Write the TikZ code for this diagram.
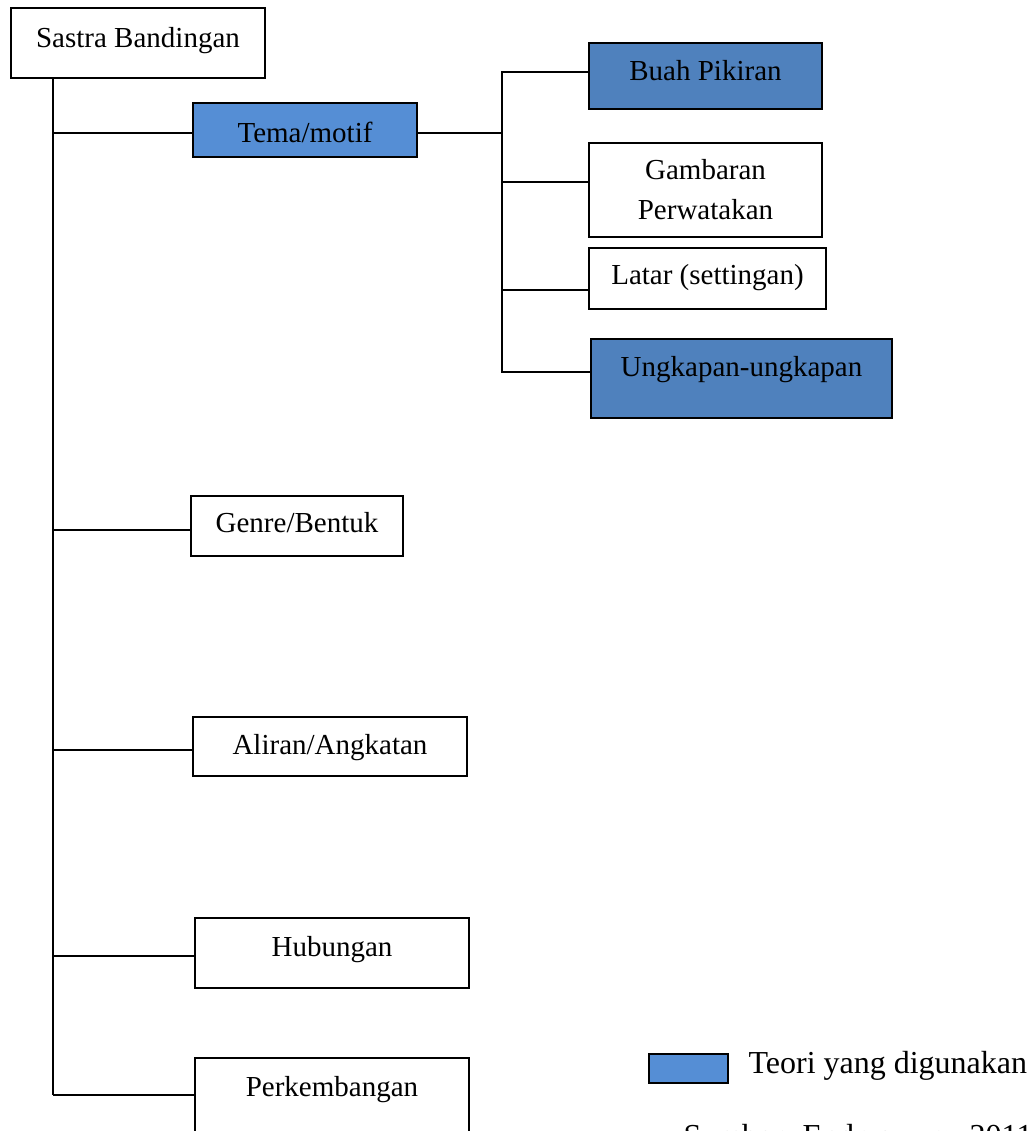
\documentclass[tikz,border=0pt]{standalone}
\usepackage{fontspec}
\setmainfont{Liberation Serif}
\usepackage{xcolor}
\usetikzlibrary{positioning,calc}
\definecolor{birumuda}{RGB}{85,142,213}
\definecolor{birutua}{RGB}{79,129,189}

\begin{document}
\begin{tikzpicture}[
    x=1pt, y=-1pt,
    every node/.style={font=\fontsize{29}{40}\selectfont},
    kotak/.style={rectangle, draw=black, line width=1.6pt, fill=white, align=center, inner sep=0pt},
    teori/.style={kotak, fill=birutua},
    teorimuda/.style={kotak, fill=birumuda},
    geser/.style 2 args={text height=#1, text depth=#2},
    garis/.style={line width=1.6pt, black}
]
\path[use as bounding box, clip] (0,0) rectangle (1035,1131);

% Root
\node[kotak, minimum width=254, minimum height=70, geser={9pt}{0pt}] (sastra) at (138,43) {Sastra Bandingan};

% Branch 1 and its parts
\node[teorimuda, minimum width=224, minimum height=54, geser={25pt}{0pt}] (tema) at (305,130) {Tema/motif};
\node[teori, minimum width=233, minimum height=66, geser={9pt}{0pt}] (buah) at (705.5,76) {Buah Pikiran};
\node[kotak, minimum width=233, minimum height=94] (gambaran) at (705.5,190) {Gambaran\\Perwatakan};
\node[kotak, minimum width=237, minimum height=61, geser={12pt}{0pt}] (latar) at (707.5,278.5) {Latar (settingan)};
\node[teori, minimum width=301, minimum height=79, geser={0pt}{4pt}] (ungkapan) at (741.5,378.5) {Ungkapan-ungkapan};

% Other branches
\node[kotak, minimum width=212, minimum height=60, geser={13pt}{0pt}] (genre) at (297,526) {Genre/Bentuk};
\node[kotak, minimum width=274, minimum height=59, geser={16pt}{0pt}] (aliran) at (330,746.5) {Aliran/Angkatan};
\node[kotak, minimum width=274, minimum height=70, geser={7pt}{0pt}] (hubungan) at (332,953) {Hubungan};
\node[kotak, minimum width=274, minimum height=82, geser={0pt}{5pt}] (perkembangan) at (332,1099) {Perkembangan};

% Legend
\node[teorimuda, minimum width=79, minimum height=29, line width=1.4pt] (legenda) at (688.5,1068.5) {};
\node[anchor=base west, font=\fontsize{32}{38}\selectfont] (teorilabel) at (745,1073) {Teori yang digunakan};
\node[anchor=base west, font=\fontsize{32}{38}\selectfont] (sumber) at (680,1146) {Sumber: Endraswara, 2011};

% Trunk
\coordinate (ujung) at (53,1095);
\draw[garis] (sastra.south -| ujung) -- (ujung);
\draw[garis] ([yshift=-3pt]tema.west) -- ([yshift=-3pt]tema.west -| ujung);
\draw[garis] ([yshift=-4pt]genre.west) -- ([yshift=-4pt]genre.west -| ujung);
\draw[garis] ([yshift=-3.5pt]aliran.west) -- ([yshift=-3.5pt]aliran.west -| ujung);
\draw[garis] ([yshift=-3pt]hubungan.west) -- ([yshift=-3pt]hubungan.west -| ujung);
\draw[garis] (ujung) -- (ujung -| perkembangan.west);

% Sub tree of Tema/motif
\coordinate (sub) at (502,133);
\draw[garis] ([yshift=-3pt]tema.east) -- (sub);
\draw[garis] ([yshift=4pt]buah.west) -| (sub);
\draw[garis] ([yshift=6.6pt]ungkapan.west) -| (sub);
\draw[garis] ([yshift=8pt]gambaran.west) -- ([yshift=8pt]gambaran.west -| sub);
\draw[garis] ([yshift=-11.5pt]latar.west) -- ([yshift=-11.5pt]latar.west -| sub);

\end{tikzpicture}
\end{document}
